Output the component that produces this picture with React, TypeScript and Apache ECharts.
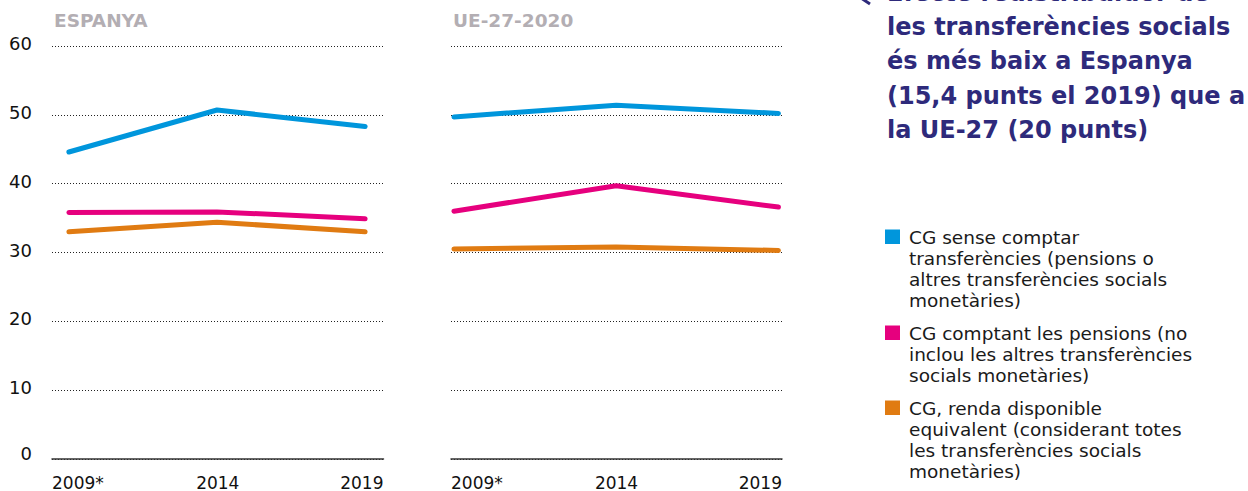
import React, { useEffect, useRef } from "react";
import * as echarts from "echarts";

const years = [2009, 2014, 2019];
const yearLabels = ["2009*", "2014", "2019"];
const yTicks = [0, 10, 20, 30, 40, 50, 60];

const esBlue = [44.6, 50.7, 48.3];
const esPink = [35.8, 35.9, 34.9];
const esOrange = [33.0, 34.4, 33.0];

const euBlue = [49.7, 51.4, 50.2];
const euPink = [36.0, 39.7, 36.6];
const euOrange = [30.5, 30.8, 30.3];

const panelTitles = ["ESPANYA", "UE-27-2020"];
const seriesNames = [
  "CG sense comptar transferències (pensions o altres transferències socials monetàries)",
  "CG comptant les pensions (no inclou les altres transferències socials monetàries)",
  "CG, renda disponible equivalent (considerant totes les transferències socials monetàries)",
];
const legendLines = [
  "CG sense comptar\ntransferències (pensions o\naltres transferències socials\nmonetàries)",
  "CG comptant les pensions (no\ninclou les altres transferències\nsocials monetàries)",
  "CG, renda disponible\nequivalent (considerant totes\nles transferències socials\nmonetàries)",
];
const headingLines = [
  "Efecte redistribuïdor de",
  "les transferències socials",
  "és més baix a Espanya",
  "(15,4 punts el 2019) que a",
  "la UE-27 (20 punts)",
];

const COLORS = ["#0096dc", "#e6007e", "#e07b12"];
const FONT = "'DejaVu Sans', sans-serif";

export default function App() {
  const ref = useRef<HTMLDivElement>(null);
  useEffect(() => {
    document.body.style.margin = "0";
    const chart = echarts.init(ref.current!, null, { renderer: "svg" });

    const grids = [
      { left: 52, right: 1248 - 383.5, top: 46, bottom: 32 },
      { left: 451, right: 1248 - 782, top: 46, bottom: 32 },
    ];
    const ranges = [
      [2008.43, 2019.62],
      [2008.91, 2019.11],
    ];

    const xValueAxes = ranges.map((r, i) => ({
      type: "value",
      gridIndex: i,
      min: r[0],
      max: r[1],
      position: "bottom",
      axisLine: { show: true, onZero: false, lineStyle: { color: "#333", width: 1.5 } },
      axisTick: { show: false },
      axisLabel: { show: false },
      splitLine: { show: false },
    }));
    const xLabelAxes = [0, 1].map((i) => ({
      type: "category",
      gridIndex: i,
      data: yearLabels,
      boundaryGap: false,
      position: "bottom",
      axisLine: { show: false },
      axisTick: { show: false },
      splitLine: { show: false },
      axisLabel: {
        show: true,
        interval: 0,
        margin: 15,
        fontSize: 17,
        fontFamily: FONT,
        color: "#111",
        alignMinLabel: "left",
        alignMaxLabel: "right",
      },
    }));
    const yAxes = [0, 1].map((i) => ({
      type: "value",
      gridIndex: i,
      min: yTicks[0],
      max: yTicks[yTicks.length - 1],
      interval: 10,
      axisLine: { show: false },
      axisTick: { show: false },
      axisLabel: {
        show: i === 0,
        margin: 20,
        fontSize: 18,
        fontFamily: FONT,
        color: "#111",
        formatter: (v: number) => (v === 0 ? "{z|0}" : "{n|" + v + "}"),
        rich: {
          n: { fontSize: 18, fontFamily: FONT, color: "#111", padding: [0, 0, 5, 0] },
          z: { fontSize: 18, fontFamily: FONT, color: "#111", padding: [0, 0, 12, 0] },
        },
      },
      splitLine: {
        show: true,
        lineStyle: { type: [1, 2], color: "#222", width: 1 },
      },
    }));

    const panels = [
      [esBlue, esPink, esOrange],
      [euBlue, euPink, euOrange],
    ];
    const series: any[] = [];
    panels.forEach((vals, p) => {
      vals.forEach((arr, k) => {
        series.push({
          type: "line",
          name: seriesNames[k],
          xAxisIndex: p,
          yAxisIndex: p,
          data: years.map((y, j) => [y, arr[j]]),
          symbol: "none",
          z: 5 + (2 - k),
          lineStyle: { color: COLORS[k], width: 5, cap: "round", join: "round" },
          itemStyle: { color: COLORS[k] },
        });
      });
    });

    const graphic: any[] = [];
    panelTitles.forEach((t, i) => {
      graphic.push({
        type: "text",
        x: i === 0 ? 54 : 453,
        y: 20,
        style: {
          text: t,
          fontSize: 18.5,
          fontWeight: "bold",
          fontFamily: FONT,
          fill: "#b3aeb3",
          verticalAlign: "middle",
        },
      });
    });
    graphic.push({
      type: "text",
      x: 887,
      y: -24.5,
      style: {
        text: headingLines.join("\n"),
        fontSize: 24,
        fontWeight: "bold",
        fontFamily: FONT,
        fill: "#2e2a7b",
        lineHeight: 34.3,
        verticalAlign: "top",
      },
    });
    graphic.push({
      type: "polyline",
      shape: { points: [[870, -4], [864, 0], [870, 4]] },
      style: { stroke: "#2e2a7b", lineWidth: 3, fill: "none" },
    });
    const baselines = [244, 340, 415];
    legendLines.forEach((t, k) => {
      graphic.push({
        type: "rect",
        shape: { x: 885, y: baselines[k] - 14.5, width: 15, height: 14.5 },
        style: { fill: COLORS[k] },
      });
      graphic.push({
        type: "text",
        x: 909,
        y: baselines[k] - 17.5,
        style: {
          text: t,
          fontSize: 18.5,
          fontFamily: FONT,
          fill: "#1a1a1a",
          lineHeight: 21,
          verticalAlign: "top",
        },
      });
    });

    chart.setOption({
      animation: false,
      backgroundColor: "#fff",
      grid: grids,
      xAxis: [...xValueAxes, ...xLabelAxes],
      yAxis: yAxes,
      series,
      graphic,
    });
    return () => chart.dispose();
  }, []);
  return <div ref={ref} style={{ width: 1248, height: 491 }} />;
}
